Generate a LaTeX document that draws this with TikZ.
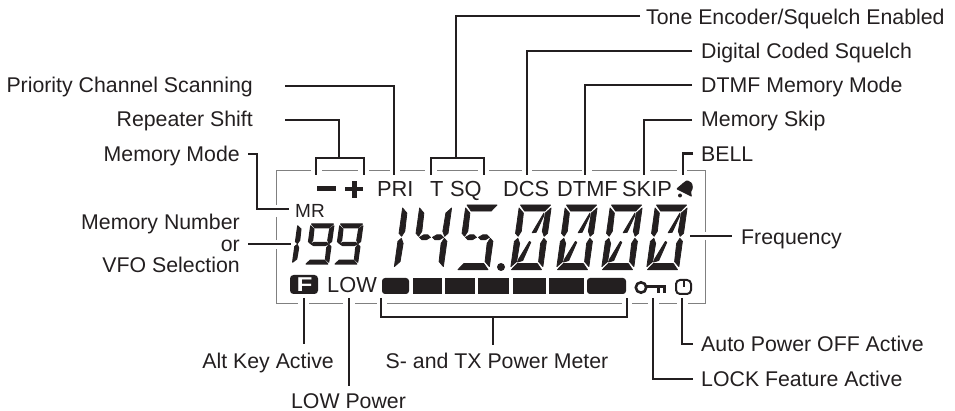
\documentclass[tikz,border=0pt]{standalone}
\usepackage{fontspec}
\usepackage{graphicx}
\setmainfont{Liberation Sans}
\definecolor{ink}{HTML}{231F20}
\tikzset{
  lab/.style={inner sep=0pt,text=ink,font=\fontsize{21.3}{24}\selectfont,anchor=base west},
  labc/.style={lab,anchor=base},
  labe/.style={lab,anchor=base east},
  lcd/.style={inner sep=0pt,text=ink,font=\fontsize{21.8}{24}\selectfont,anchor=base west},
  lead/.style={draw=ink,line width=2.1pt,miter limit=10},
  framel/.style={draw=black!50,line width=.9pt},
  seg/.style={fill=ink,draw=ink,line width=.8pt,line join=round},
  bar/.style={fill=ink}
}
% segments in a digit cell 32 wide, 64 high, y running downward
\newcommand{\sA}{\path[seg] (1,0)--(31,0)--(26,6)--(6,6)--cycle;}
\newcommand{\sB}{\path[seg] (32,3)--(27,8)--(26.5,26)--(29,31)--(32,28)--cycle;}
\newcommand{\sC}{\path[seg] (32,36)--(29,33)--(26.5,38)--(27,56)--(32,61)--cycle;}
\newcommand{\sD}{\path[seg] (1,64)--(6,58)--(26,58)--(31,64)--cycle;}
\newcommand{\sE}{\path[seg] (0,36)--(3,33)--(5.5,38)--(5,56)--(0,61)--cycle;}
\newcommand{\sF}{\path[seg] (0,3)--(5,8)--(5.5,26)--(3,31)--(0,28)--cycle;}
\newcommand{\sGl}{\path[seg] (4,32)--(8,29.5)--(12,29.5)--(15,32)--(11,34.5)--(7,34.5)--cycle;}
\newcommand{\sGr}{\path[seg] (17,32)--(21,29.5)--(25,29.5)--(28,32)--(24,34.5)--(20,34.5)--cycle;}
\newcommand{\sGall}{\path[seg] (4,32)--(8,29.5)--(25,29.5)--(28,32)--(24,34.5)--(8,34.5)--cycle;}
\newcommand{\sDu}{\path[seg] (25.5,8)--(26,10)--(20.5,27)--(16.5,27.5)--cycle;}
\newcommand{\sDl}{\path[seg] (6,56.5)--(6.5,54)--(15,36)--(16.5,37)--(11,55)--cycle;}
\newcommand{\bigcell}[2]{\begin{scope}[shift={(#1,205)},xslant=.14,yscale=1.01]#2\end{scope}}
\newcommand{\smallcell}[2]{\begin{scope}[shift={(#1,224)},xslant=.14,xscale=.72,yscale=.625,seg/.append style={line width=1.2pt}]#2\end{scope}}
\newcommand{\zerodigit}{\sA\sB\sC\sD\sE\sF\sDu\sDl}
\newcommand{\ninedigit}{\sA\sB\sC\sD\sF\sGall}
\begin{document}
\begin{tikzpicture}[x=1pt,y=-1pt]
\useasboundingbox (0,0) rectangle (955,411);
% frame with gaps
\draw[framel] (311,170)--(276,170)--(276,205);
\draw[framel] (276,217)--(276,240);
\draw[framel] (276,249)--(276,303)--(298,303);
\foreach \a/\b in {322/358,369/390,400/425,437/478,489/522,532/582,592/640,650/677}
  \draw[framel] (\a,170)--(\b,170);
\draw[framel] (687,170)--(705,170)--(705,232);
\draw[framel] (705,240)--(705,303)--(688,303);
\foreach \a/\b in {309/343,355/377,387/622,632/648,659/677}
  \draw[framel] (\a,303)--(\b,303);
% labels
\node[lab] (tone) at (646,25) {Tone Encoder/Squelch Enabled};
\node[lab] (dcsq) at (701,58.5) {Digital Coded Squelch};
\node[lab] (dtmfm) at (701,93) {DTMF Memory Mode};
\node[lab] (skipm) at (701,127) {Memory Skip};
\node[lab] (bellm) at (701,162) {BELL};
\node[lab] (freq) at (741,245) {Frequency};
\node[lab] (autop) at (701,351) {Auto Power OFF Active};
\node[lab] (lockf) at (701,386) {LOCK Feature Active};
\node[labe] (prio) at (253,93) {Priority Channel Scanning};
\node[labe] (rshift) at (253,127) {Repeater Shift};
\node[labe] (mmode) at (240,162) {Memory Mode};
\node[labe] (mnum) at (240,230) {Memory Number};
\node[labe] (mor) at (240,252) {or};
\node[labe] (mvfo) at (240,273) {VFO Selection};
\node[labe] (altk) at (334,368) {Alt Key Active};
\node[labc] (smeter) at (497,368) {S- and TX Power Meter};
\node[labc] (lowp) at (348.5,408) {LOW Power};
% LCD indicators
\path[bar] (317,186.5) rectangle (336,191);
\path[bar] (345,187) rectangle (363,191.5);
\path[bar] (351.5,181) rectangle (356.5,198);
\node[lcd] (ipri) at (377,197) {PRI};
\node[lcd] (it) at (430,197) {T};
\node[lcd] (isq) at (450,197) {SQ};
\node[lcd] (idcs) at (503,197) {DCS};
\node[lcd] (idtmf) at (557,197) {DTMF};
\node[lcd] (iskip) at (622,197) {SKIP};
\node[lcd,font=\fontsize{19}{22}\selectfont] (imr) at (295,218) {MR};
\node[lcd] (ilow) at (327,293) {LOW};
% bell
\path[bar,rounded corners=1pt] (676,189)--(683,183)--(687,180)--(692,183)--(693,188)--(691,192)--(692,197)--cycle;
\fill[ink] (680,195.5) circle (2);
% F key
\path[bar,rounded corners=3.5pt] (290,275) rectangle (318,294);
\node[inner sep=0pt,text=white,font=\fontsize{20}{20}\selectfont\bfseries,anchor=base] (ifkey) at (304.5,292) {\scalebox{1.3}[1]{F}};
% meter
\path[bar,rounded corners=3pt] (382,278)--(409,278)--(409,294)--(382,294)--cycle;
\path[bar] (413,278) rectangle (442,294);
\path[bar] (445,278) rectangle (475,294);
\path[bar] (478,278) rectangle (509,294);
\path[bar] (513,278) rectangle (546,294);
\path[bar] (549,278) rectangle (584,294);
\path[bar,rounded corners=3pt] (587,278)--(626,278)--(626,294)--(587,294)--cycle;
% key icon
\draw[ink,line width=2.6pt] (641,287.5) circle (5.2);
\path[bar] (646,285.5) rectangle (666,288.5);
\path[bar] (657,288) rectangle (660,293);
\path[bar] (663,288) rectangle (666,293);
% timer icon
\draw[ink,line width=2pt,rounded corners=4pt] (676,280) rectangle (691,294);
\draw[ink,line width=2pt] (683.5,279)--(683.5,287);
% big digits
\bigcell{403}{\sF\sE}
\bigcell{420}{\sF\sGl\sGr\sB\sC}
\bigcell{466}{\sA\sF\sGl\sGr\sC\sD}
\fill[ink] (501,267) circle (4);
\bigcell{519.5}{\zerodigit}
\bigcell{565.5}{\zerodigit}
\bigcell{610.5}{\zerodigit}
\bigcell{655.5}{\zerodigit}
% small digits
\smallcell{298}{\sF\sE}
\smallcell{311}{\ninedigit}
\smallcell{340}{\ninedigit}
% connector ends
\coordinate (rsA) at (285,120); \coordinate (rsB) at (339,158);
\coordinate (prA) at (285,86);  \coordinate (prB) at (394,175);
\coordinate (toA) at (640,16);  \coordinate (toB) at (456,158);
\coordinate (dcA) at (692,51);  \coordinate (dcB) at (527,175);
\coordinate (dtA) at (692,85);  \coordinate (dtB) at (585,175);
\coordinate (skA) at (692,120); \coordinate (skB) at (644,175);
\coordinate (beA) at (693,153.5); \coordinate (beB) at (683,175);
\coordinate (mmA) at (248,154); \coordinate (mmB) at (289,209);
\coordinate (vfA) at (248,244); \coordinate (vfB) at (291,244);
\coordinate (frA) at (690,236); \coordinate (frB) at (732,236);
\coordinate (afA) at (304,298); \coordinate (afB) at (304,344);
\coordinate (lwA) at (349,298); \coordinate (lwB) at (349,386);
\coordinate (smA) at (493,317); \coordinate (smB) at (493,345);
\coordinate (loA) at (653,298); \coordinate (loB) at (693,379);
\coordinate (auA) at (682,298); \coordinate (auB) at (693,344);
% connectors
\draw[lead] (rsA) -| (rsB);
\draw[lead] (316,175)--(316,158)--(364,158)--(364,175);
\draw[lead] (prA) -| (prB);
\draw[lead] (toA) -| (toB);
\draw[lead] (431,175)--(431,158)--(484,158)--(484,175);
\draw[lead] (dcA) -| (dcB);
\draw[lead] (dtA) -| (dtB);
\draw[lead] (skA) -| (skB);
\draw[lead] (beA) -| (beB);
\draw[lead] (mmA) -- (257,154) |- (mmB);
\draw[lead] (vfA) -- (vfB);
\draw[lead] (frA) -- (frB);
\draw[lead] (afA) -- (afB);
\draw[lead] (lwA) -- (lwB);
\draw[lead] (381,298)--(381,317)--(627,317)--(627,298);
\draw[lead] (smA) -- (smB);
\draw[lead] (loA) |- (loB);
\draw[lead] (auA) |- (auB);
\end{tikzpicture}
\end{document}
